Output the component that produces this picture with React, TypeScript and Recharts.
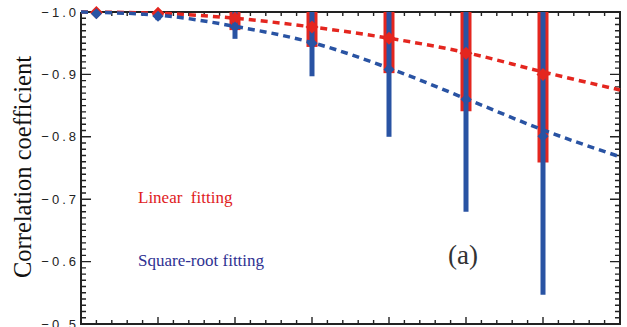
import React from 'react';
import {
    ComposedChart,
    Line,
    XAxis,
    YAxis,
    ErrorBar,
} from 'recharts';

// x positions of the measured points
const pointX = [0.2, 1, 2, 3, 4, 5, 6];

// linear fitting: mean correlation and lower end of its spread bar
const linearMean = [-0.999, -0.998, -0.99, -0.976, -0.958, -0.934, -0.9];
const linearLow = [-0.997, -0.994, -0.971, -0.944, -0.902, -0.841, -0.759];

// square-root fitting: mean correlation and lower end of its spread bar
const sqrtMean = [-0.997, -0.993, -0.976, -0.95, -0.908, -0.86, -0.801];
const sqrtLow = [-0.994, -0.987, -0.957, -0.897, -0.8, -0.68, -0.547];

// fitted trend curves (dashed)
const fitX = [0, 1, 2, 3, 4, 5, 6, 7];
const linearFit = [-1.0, -0.998, -0.99, -0.976, -0.958, -0.935, -0.904, -0.875];
const sqrtFit = [-1.0, -0.995, -0.977, -0.951, -0.91, -0.861, -0.811, -0.768];

// axis ticks
const X_MIN = 0;
const X_MAX = 7;
const Y_TOP = -1.0;
const Y_BOTTOM = -0.5;
const yMajor = [-1.0, -0.9, -0.8, -0.7, -0.6, -0.5];
const yTicks = Array.from({ length: 51 }, (_, i) => +(-1 + i * 0.01).toFixed(2));
const xMajor = [0, 1, 2, 3, 4, 5, 6, 7];
const xTicks = Array.from({ length: 36 }, (_, i) => +(i * 0.2).toFixed(1));

const RED = '#e4261f';
const BLUE = '#2953a3';
const INK = '#222';

const isYMajor = (v: number) => yMajor.some(m => Math.abs(m - v) < 1e-6);
const isXMajor = (v: number) => xMajor.some(m => Math.abs(m - v) < 1e-6);
const fmtY = (v: number) => v.toFixed(1).replace('-', '\u2212');

// bars run from the top of the frame (-1.0) down to the lower end
const pts = (xs: number[], ys: number[], lows: number[]) =>
    xs.map((x, i) => ({
        x,
        y: ys[i],
        err: [+(ys[i] - Y_TOP).toFixed(4), +(lows[i] - ys[i]).toFixed(4)],
    }));
const curve = (xs: number[], ys: number[]) => xs.map((x, i) => ({ x, y: ys[i] }));

const linearPts = pts(pointX, linearMean, linearLow);
const sqrtPts = pts(pointX, sqrtMean, sqrtLow);
const linearCurve = curve(fitX, linearFit);
const sqrtCurve = curve(fitX, sqrtFit);

// plot frame and inward tick marks, in data units (null breaks the line)
const frame = [
    { x: X_MIN, y: Y_TOP },
    { x: X_MAX, y: Y_TOP },
    { x: X_MAX, y: Y_BOTTOM },
    { x: X_MIN, y: Y_BOTTOM },
    { x: X_MIN, y: Y_TOP },
];
const yTickMarks = yTicks.flatMap(v => {
    const len = isYMajor(v) ? 0.13 : 0.065;
    return [
        { x: X_MIN, y: v }, { x: X_MIN + len, y: v }, { x: X_MIN + len, y: null },
        { x: X_MAX, y: v }, { x: X_MAX - len, y: v }, { x: X_MAX - len, y: null },
    ];
});
const xTickMarks = xTicks.flatMap(t => {
    const len = isXMajor(t) ? 0.0112 : 0.0064;
    return [
        { x: t, y: Y_BOTTOM }, { x: t, y: Y_BOTTOM - len }, { x: t, y: null },
        { x: t, y: Y_TOP }, { x: t, y: Y_TOP + len }, { x: t, y: null },
    ];
});

const tickFont = { fontFamily: '"Liberation Sans", Arial, sans-serif', fontSize: 13, letterSpacing: 3 };
const serif = '"Liberation Serif", "Times New Roman", serif';

function LeftLabel({ x, y, payload }: any) {
    if (!isYMajor(payload.value)) return <g />;
    return (
        <text x={x - 2} y={y} dy="0.36em" textAnchor="end" fill={INK} {...tickFont}>
            {fmtY(payload.value)}
        </text>
    );
}

const NoTick = () => <g />;

const diamond = (fill: string, r: number) => (props: any) => {
    const { cx, cy, index } = props;
    if (cx == null || cy == null) return <g key={index} />;
    return (
        <polygon
            key={index}
            points={`${cx},${cy - r} ${cx + r},${cy} ${cx},${cy + r} ${cx - r},${cy}`}
            fill={fill}
        />
    );
};

export default function App() {
    return (
        <div style={{ position: 'absolute', left: 0, top: 0, width: 627, height: 327, background: '#fff' }}>
            <ComposedChart width={627} height={327} margin={{ top: 12, right: 7, bottom: 2, left: 0 }}>
                <XAxis
                    dataKey="x"
                    type="number"
                    domain={[X_MIN, X_MAX]}
                    ticks={xMajor}
                    interval={0}
                    height={1}
                    tickSize={0}
                    tickMargin={0}
                    tickLine={false}
                    axisLine={false}
                    tick={<NoTick />}
                />
                <YAxis
                    type="number"
                    domain={[Y_TOP, Y_BOTTOM]}
                    reversed
                    ticks={yMajor}
                    interval={0}
                    width={81}
                    tickSize={0}
                    tickMargin={0}
                    tickLine={false}
                    axisLine={false}
                    tick={<LeftLabel />}
                />

                {/* frame and tick marks */}
                <Line data={yTickMarks} dataKey="y" stroke={INK} strokeWidth={1.4} dot={false} activeDot={false} isAnimationActive={false} />
                <Line data={xTickMarks} dataKey="y" stroke={INK} strokeWidth={1.4} dot={false} activeDot={false} isAnimationActive={false} />
                <Line data={frame} dataKey="y" stroke={INK} strokeWidth={2} dot={false} activeDot={false} isAnimationActive={false} />

                {/* linear fitting */}
                <Line
                    data={linearCurve}
                    dataKey="y"
                    type="monotone"
                    stroke={RED}
                    strokeWidth={3.5}
                    strokeDasharray="7 5"
                    dot={false}
                    activeDot={false}
                    isAnimationActive={false}
                />
                <Line
                    data={linearPts}
                    dataKey="y"
                    stroke={RED}
                    strokeWidth={0}
                    dot={diamond(RED, 6.5)}
                    activeDot={false}
                    isAnimationActive={false}
                >
                    <ErrorBar dataKey="err" direction="y" width={0} strokeWidth={11} stroke={RED} isAnimationActive={false} />
                </Line>

                {/* square-root fitting */}
                <Line
                    data={sqrtCurve}
                    dataKey="y"
                    type="monotone"
                    stroke={BLUE}
                    strokeWidth={3.5}
                    strokeDasharray="7 5"
                    dot={false}
                    activeDot={false}
                    isAnimationActive={false}
                />
                <Line
                    data={sqrtPts}
                    dataKey="y"
                    stroke={BLUE}
                    strokeWidth={0}
                    dot={diamond(BLUE, 5.5)}
                    activeDot={false}
                    isAnimationActive={false}
                >
                    <ErrorBar dataKey="err" direction="y" width={0} strokeWidth={5} stroke={BLUE} isAnimationActive={false} />
                </Line>
            </ComposedChart>

            {/* axis title and annotations */}
            <svg
                width={627}
                height={327}
                style={{ position: 'absolute', left: 0, top: 0, pointerEvents: 'none' }}
            >
                <text transform="rotate(-90)" x={-167} y={31} textAnchor="middle" fill="#111" fontFamily={serif} fontSize={24.5}>
                    Correlation coefficient
                </text>
                <text x={138} y={203} fill="#e0201c" fontFamily={serif} fontSize={17} style={{ whiteSpace: 'pre' }}>
                    {'Linear  fitting'}
                </text>
                <text x={138} y={266} fill="#2e3192" fontFamily={serif} fontSize={17}>
                    Square-root fitting
                </text>
                <text x={448} y={264} fill="#333" fontFamily={serif} fontSize={27}>
                    (a)
                </text>
            </svg>
        </div>
    );
}
